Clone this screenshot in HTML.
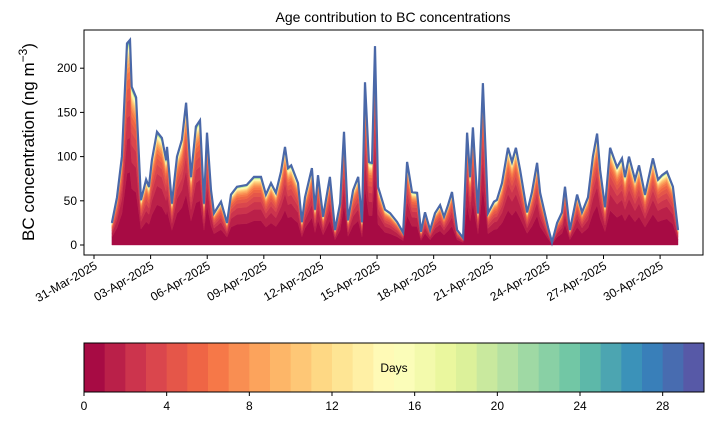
<!DOCTYPE html>
<html><head><meta charset="utf-8"><style>
body{margin:0;background:#fff;font-family:"Liberation Sans",sans-serif}
svg text{font-family:"Liberation Sans","DejaVu Sans",sans-serif}
</style></head><body>
<svg id="c" width="714" height="425" xmlns="http://www.w3.org/2000/svg">
<text x="393" y="22" font-size="14" text-anchor="middle">Age contribution to BC concentrations</text>
<text transform="translate(34,142) rotate(-90)" font-size="17" text-anchor="middle">BC concentration (ng m<tspan dy="-7" font-size="12">−3</tspan><tspan dy="7">)</tspan></text>
<g id="areas"></g>
<rect x="84" y="30" width="619" height="225" fill="none" stroke="#000" stroke-width="1"/>
<g id="axes"></g>
<g id="cbar"></g>
</svg>
<script>
const days=[0.95,1.22,1.48,1.75,1.91,2.0,2.23,2.49,2.76,2.91,3.07,3.34,3.6,3.82,3.87,4.13,4.4,4.66,4.88,5.14,5.4,5.62,5.83,5.99,6.2,6.36,6.73,7.05,7.26,7.58,8.1,8.48,8.85,9.11,9.38,9.64,9.91,10.12,10.28,10.45,10.81,11.02,11.18,11.55,11.71,11.87,12.14,12.5,12.77,13.04,13.25,13.46,13.73,14.0,14.2,14.36,14.57,14.73,14.89,15.05,15.42,15.69,16.06,16.38,16.59,16.85,17.12,17.33,17.54,17.81,18.07,18.34,18.55,18.76,18.97,19.24,19.56,19.77,19.93,20.08,20.35,20.61,20.88,21.2,21.35,21.62,21.94,22.15,22.36,22.58,22.95,23.21,23.48,23.64,24.06,24.27,24.54,24.8,24.96,25.22,25.6,25.86,26.18,26.44,26.66,26.82,27.08,27.35,27.72,27.98,28.14,28.35,28.67,28.88,29.2,29.62,29.89,30.1,30.36,30.68,30.95];
const totals=[25,54,100,228,232,179,167,51,74,66,96,128,121,96,111,47,100,119,161,77,134,141,47,127,62,36,49,25,57,66,68,77,77,57,70,59,83,111,87,90,70,26,54,87,40,79,32,77,17,47,128,28,62,77,26,184,94,93,225,66,40,36,26,14,94,60,59,15,37,17,36,45,32,45,60,17,8,127,77,133,36,183,36,49,51,70,110,94,110,85,37,60,93,59,20,3,25,37,66,17,57,37,54,100,126,85,43,110,88,98,77,100,74,90,57,98,74,79,83,66,17];
const ageShares=[0.36,0.17,0.11,0.08,0.06,0.045,0.035,0.025,0.02,0.016,0.013,0.011,0.009,0.008,0.007,0.006,0.005,0.004,0.004,0.003,0.003,0.003,0.002,0.002,0.002,0.002,0.002,0.002,0.002,0.002];
const yTicks=[0,50,100,150,200];
const xTickLabels=["31-Mar-2025","03-Apr-2025","06-Apr-2025","09-Apr-2025","12-Apr-2025","15-Apr-2025","18-Apr-2025","21-Apr-2025","24-Apr-2025","27-Apr-2025","30-Apr-2025"];
const xTickDays=[0,3,6,9,12,15,18,21,24,27,30];
const cbTicks=[0,4,8,12,16,20,24,28];

const NS="http://www.w3.org/2000/svg";
const X=d=>94+d*18.87, Y=v=>245-v*0.884;
const anchors=["#9e0142","#d53e4f","#f46d43","#fdae61","#fee08b","#ffffbf","#e6f598","#abdda4","#66c2a5","#3288bd","#5e4fa2"];
function hx(h){return [1,3,5].map(i=>parseInt(h.substr(i,2),16));}
function spectral(t){const p=t*10,i=Math.min(9,Math.floor(p)),f=p-i,a=hx(anchors[i]),b=hx(anchors[i+1]);return "rgb("+a.map((v,k)=>Math.round(v+(b[k]-v)*f)).join(",")+")";}
function el(tag,attrs,parent){const e=document.createElementNS(NS,tag);for(const k in attrs)e.setAttribute(k,attrs[k]);parent.appendChild(e);return e;}
const sumS=ageShares.reduce((a,b)=>a+b,0);
const areas=document.getElementById('areas');
let cum=days.map(()=>0);
for(let k=0;k<ageShares.length;k++){
  const lo=cum.slice();
  cum=cum.map((c,i)=>c+totals[i]*ageShares[k]/sumS);
  let d="M"+days.map((t,i)=>X(t).toFixed(1)+","+Y(cum[i]).toFixed(1)).join("L");
  for(let i=days.length-1;i>=0;i--)d+="L"+X(days[i]).toFixed(1)+","+Y(lo[i]).toFixed(1);
  const p=el('path',{d:d+"Z",fill:spectral((k+0.5)/30),stroke:spectral((k+0.5)/30),"stroke-width":0.4},areas);
  
  
}
const line=el('path',{d:"M"+days.map((t,i)=>X(t).toFixed(1)+","+Y(totals[i]).toFixed(1)).join("L"),fill:"none",stroke:"#4a68a8","stroke-width":2.2},areas);



const ax=document.getElementById('axes');
yTicks.forEach(v=>{
  el('line',{x1:80,x2:84,y1:Y(v),y2:Y(v),stroke:"#000"},ax);
  const t=el('text',{x:77,y:Y(v)+4,"font-size":12,"text-anchor":"end"},ax);t.textContent=v;
  
  
});
xTickDays.forEach((d,i)=>{
  const x=X(d);
  el('line',{x1:x,x2:x,y1:255,y2:259,stroke:"#000"},ax);
  const t=el('text',{transform:`translate(${x+4},${268}) rotate(-30)`,"font-size":12,"text-anchor":"end"},ax);t.textContent=xTickLabels[i];
  
  
});

const cb=document.getElementById('cbar');
const cx0=84,cw=620,cy=343,ch=49;
for(let k=0;k<30;k++){
  const r=el('rect',{x:cx0+k*cw/30,y:cy,width:cw/30+0.5,height:ch,fill:spectral((k+0.5)/30)},cb);
  
  
}
el('rect',{x:cx0,y:cy,width:cw,height:ch,fill:"none",stroke:"#000"},cb);
const dl=el('text',{x:cx0+cw/2,y:372,"font-size":12,"text-anchor":"middle"},cb);dl.textContent="Days";


cbTicks.forEach(v=>{
  const x=cx0+v*cw/30;
  el('line',{x1:x,x2:x,y1:cy+ch,y2:cy+ch+4,stroke:"#000"},cb);
  const t=el('text',{x:x,y:cy+ch+18,"font-size":12,"text-anchor":"middle"},cb);t.textContent=v;
  
  
});
</script>
</body></html>
